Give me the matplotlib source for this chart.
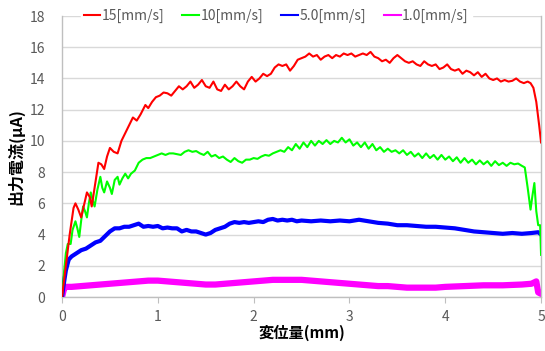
import matplotlib
matplotlib.use('Agg')
import matplotlib.pyplot as plt

plt.rcParams['font.family'] = ['Noto Sans CJK JP', 'DejaVu Sans']

# series: displacement [mm] vs output current [uA]
red_x = [0, 0.03, 0.08, 0.12, 0.14, 0.17, 0.2, 0.23, 0.26, 0.29, 0.31, 0.34, 0.38, 0.41, 0.44, 0.47,
         0.5, 0.54, 0.58, 0.62, 0.66, 0.7, 0.74, 0.78, 0.82, 0.87, 0.9, 0.94, 0.98, 1.02, 1.06, 1.1,
         1.14, 1.18, 1.22, 1.26, 1.3, 1.34, 1.38, 1.42, 1.46, 1.5, 1.54, 1.58, 1.62, 1.66, 1.7, 1.74,
         1.78, 1.82, 1.86, 1.9, 1.94, 1.98, 2.02, 2.06, 2.1, 2.14, 2.18, 2.22, 2.26, 2.3, 2.34, 2.38,
         2.42, 2.46, 2.5, 2.54, 2.58, 2.62, 2.66, 2.7, 2.74, 2.78, 2.82, 2.86, 2.9, 2.94, 2.98, 3.02,
         3.06, 3.1, 3.14, 3.18, 3.22, 3.26, 3.3, 3.34, 3.38, 3.42, 3.46, 3.5, 3.54, 3.58, 3.62, 3.66,
         3.7, 3.74, 3.78, 3.82, 3.86, 3.9, 3.94, 3.98, 4.02, 4.06, 4.1, 4.14, 4.18, 4.22, 4.26, 4.3,
         4.34, 4.38, 4.42, 4.46, 4.5, 4.54, 4.58, 4.62, 4.66, 4.7, 4.74, 4.78, 4.82, 4.86, 4.89, 4.92,
         4.95, 4.98, 5.0]
red_y = [0, 1.5, 4.0, 5.7, 6.0, 5.6, 5.1, 5.9, 6.7, 6.4, 5.8, 7.0, 8.6, 8.5, 8.2, 9.0,
         9.55, 9.3, 9.2, 10.0, 10.5, 11.0, 11.5, 11.3, 11.7, 12.3, 12.1, 12.5, 12.8, 12.9, 13.1, 13.05,
         12.9, 13.2, 13.5, 13.3, 13.5, 13.8, 13.4, 13.6, 13.9, 13.5, 13.4, 13.8, 13.3, 13.2, 13.6, 13.3,
         13.5, 13.8, 13.5, 13.3, 13.8, 14.1, 13.8, 14.0, 14.3, 14.15, 14.3, 14.7, 14.9, 14.8, 14.9, 14.5,
         14.8, 15.2, 15.3, 15.4, 15.6, 15.4, 15.5, 15.2, 15.4, 15.5, 15.3, 15.5, 15.4, 15.6, 15.5, 15.6,
         15.4, 15.5, 15.6, 15.5, 15.7, 15.4, 15.3, 15.1, 15.2, 15.0, 15.3, 15.5, 15.3, 15.1, 15.0, 15.1,
         14.9, 14.8, 15.1, 14.9, 14.8, 14.9, 14.6, 14.7, 14.9, 14.6, 14.5, 14.6, 14.3, 14.5, 14.4, 14.2,
         14.4, 14.1, 14.3, 14.0, 13.9, 14.0, 13.8, 13.9, 13.8, 13.85, 14.0, 13.8, 13.7, 13.8, 13.7, 13.4,
         12.5, 11.0, 9.9]

green_x = [0, 0.02, 0.04, 0.06, 0.09, 0.11, 0.14, 0.16, 0.18, 0.2, 0.22, 0.24, 0.26, 0.28, 0.3, 0.32,
           0.34, 0.37, 0.4, 0.42, 0.44, 0.47, 0.5, 0.52, 0.55, 0.58, 0.6, 0.63, 0.66, 0.69, 0.72, 0.76,
           0.8, 0.84, 0.88, 0.92, 0.96, 1.0, 1.04, 1.08, 1.12, 1.16, 1.2, 1.24, 1.28, 1.32, 1.36, 1.4,
           1.44, 1.48, 1.52, 1.56, 1.6, 1.64, 1.68, 1.72, 1.76, 1.8, 1.84, 1.88, 1.92, 1.96, 2.0, 2.04,
           2.08, 2.12, 2.16, 2.2, 2.24, 2.28, 2.32, 2.36, 2.4, 2.44, 2.48, 2.52, 2.56, 2.6, 2.64, 2.68,
           2.72, 2.76, 2.8, 2.84, 2.88, 2.92, 2.96, 3.0, 3.04, 3.08, 3.12, 3.16, 3.2, 3.24, 3.28, 3.32,
           3.36, 3.4, 3.44, 3.48, 3.52, 3.56, 3.6, 3.64, 3.68, 3.72, 3.76, 3.8, 3.84, 3.88, 3.92, 3.96,
           4.0, 4.04, 4.08, 4.12, 4.16, 4.2, 4.24, 4.28, 4.32, 4.36, 4.4, 4.44, 4.48, 4.52, 4.56, 4.6,
           4.64, 4.68, 4.72, 4.76, 4.8, 4.83, 4.86, 4.89, 4.91, 4.93, 4.95, 4.97, 4.99, 5.0]
green_y = [0, 1.5, 2.8, 3.4, 3.4, 4.3, 4.85, 4.4, 3.85, 4.9, 5.8, 5.5, 5.1, 6.0, 6.7, 6.2,
           5.8, 6.9, 7.7, 7.0, 6.7, 7.4, 7.0, 6.6, 7.5, 7.7, 7.2, 7.6, 7.9, 7.6, 7.9, 8.1,
           8.6, 8.8, 8.9, 8.9, 9.0, 9.1, 9.2, 9.1, 9.2, 9.2, 9.15, 9.1, 9.3, 9.4, 9.3, 9.35,
           9.2, 9.1, 9.3, 9.0, 9.1, 8.9, 9.0, 8.8, 8.65, 8.9, 8.7, 8.6, 8.8, 8.8, 8.9, 8.85,
           9.0, 9.1, 9.05, 9.2, 9.3, 9.4, 9.3, 9.6, 9.4, 9.8, 9.5, 9.9, 9.6, 10.0, 9.7, 10.0,
           9.8, 10.05, 9.8, 10.0, 9.9, 10.2, 9.9, 10.1, 9.7, 9.9, 9.6, 9.9, 9.5, 9.8, 9.4, 9.6,
           9.3, 9.5, 9.3, 9.4, 9.2, 9.4, 9.1, 9.3, 9.0, 9.2, 8.9, 9.2, 8.9, 9.1, 8.8, 9.1,
           8.8, 9.0, 8.7, 8.95, 8.6, 8.9, 8.6, 8.8, 8.5, 8.75, 8.5, 8.7, 8.4, 8.7, 8.45, 8.6,
           8.4, 8.6, 8.5, 8.55, 8.4, 8.3, 7.0, 5.6, 6.5, 7.3, 5.5, 4.6, 4.6, 2.7]

blue_x = [0, 0.02, 0.04, 0.07, 0.1, 0.15, 0.2, 0.25, 0.3, 0.35, 0.4, 0.45, 0.5, 0.55, 0.6, 0.65,
          0.7, 0.75, 0.8, 0.85, 0.9, 0.95, 1.0, 1.05, 1.1, 1.15, 1.2, 1.25, 1.3, 1.35, 1.4, 1.45,
          1.5, 1.55, 1.6, 1.65, 1.7, 1.75, 1.8, 1.85, 1.9, 1.95, 2.0, 2.05, 2.1, 2.15, 2.2, 2.25,
          2.3, 2.35, 2.4, 2.45, 2.5, 2.6, 2.7, 2.8, 2.9, 3.0, 3.1, 3.2, 3.3, 3.4, 3.5, 3.6,
          3.7, 3.8, 3.9, 4.0, 4.1, 4.2, 4.3, 4.4, 4.5, 4.6, 4.7, 4.8, 4.9, 4.97, 5.0]
blue_y = [0, 0.9, 1.7, 2.4, 2.6, 2.8, 3.0, 3.1, 3.3, 3.5, 3.6, 3.9, 4.2, 4.4, 4.4, 4.5,
          4.5, 4.6, 4.7, 4.5, 4.55, 4.5, 4.55, 4.4, 4.45, 4.4, 4.4, 4.2, 4.3, 4.2, 4.2, 4.1,
          4.0, 4.1, 4.3, 4.4, 4.5, 4.7, 4.8, 4.75, 4.8, 4.75, 4.8, 4.85, 4.8, 4.95, 5.0, 4.9,
          4.95, 4.9, 4.95, 4.85, 4.9, 4.85, 4.9, 4.85, 4.9, 4.85, 4.95, 4.85, 4.75, 4.7, 4.6, 4.6,
          4.55, 4.5, 4.5, 4.45, 4.4, 4.3, 4.2, 4.15, 4.1, 4.05, 4.1, 4.05, 4.1, 4.15, 4.0]

pink_x = [0, 0.02, 0.04, 0.1, 0.2, 0.3, 0.4, 0.5, 0.6, 0.7, 0.8, 0.9, 1.0, 1.1, 1.2, 1.3,
          1.4, 1.5, 1.6, 1.7, 1.8, 1.9, 2.0, 2.1, 2.2, 2.3, 2.4, 2.5, 2.6, 2.7, 2.8, 2.9,
          3.0, 3.1, 3.2, 3.3, 3.4, 3.5, 3.6, 3.7, 3.8, 3.9, 4.0, 4.2, 4.4, 4.6, 4.8, 4.9,
          4.95, 4.97, 5.0]
pink_y = [0, 0.5, 0.65, 0.65, 0.7, 0.75, 0.8, 0.85, 0.9, 0.95, 1.0, 1.05, 1.05, 1.0, 0.95, 0.9,
          0.85, 0.8, 0.8, 0.85, 0.9, 0.95, 1.0, 1.05, 1.1, 1.1, 1.1, 1.1, 1.05, 1.0, 0.95, 0.9,
          0.85, 0.8, 0.75, 0.7, 0.7, 0.65, 0.6, 0.6, 0.6, 0.6, 0.65, 0.7, 0.75, 0.75, 0.8, 0.85,
          1.0, 0.3, 0.2]

labels = ['15[mm/s]', '10[mm/s]', '5.0[mm/s]', '1.0[mm/s]']

fig = plt.figure(figsize=(5.45, 3.51), dpi=100)
ax = fig.add_axes([0.1138, 0.1538, 0.879, 0.8006])

ax.plot(red_x, red_y, color='#ff0000', lw=1.5, label=labels[0], zorder=5)
ax.plot(green_x, green_y, color='#00ff00', lw=1.5, label=labels[1], zorder=4)
ax.plot(blue_x, blue_y, color='#0000ff', lw=3.0, label=labels[2], zorder=3)
ax.plot(pink_x, pink_y, color='#ff00ff', lw=4.5, label=labels[3], zorder=2)

ax.set_xlim(0, 5)
ax.set_ylim(0, 18)
ax.set_xticks(range(0, 6))
ax.set_yticks(range(0, 19, 2))
ax.yaxis.grid(True, color='#d9d9d9', lw=1)
ax.set_axisbelow(True)

ax.spines['top'].set_visible(False)
for s in ['left', 'bottom', 'right']:
    ax.spines[s].set_color('#bfbfbf')
    ax.spines[s].set_linewidth(1)

ax.tick_params(axis='y', length=0, pad=12, labelsize=10, labelcolor='#595959')
ax.tick_params(axis='x', length=4, color='#bfbfbf', pad=5, labelsize=10, labelcolor='#595959')

ax.set_xlabel('変位量(mm)', fontsize=11, fontweight='bold', labelpad=1)
ax.set_ylabel('出力電流(μA)', fontsize=11.5, fontweight='bold', labelpad=4)

leg = ax.legend(loc='center', bbox_to_anchor=(0.447, 1.0), ncol=4, frameon=True,
                facecolor='white', edgecolor='white', framealpha=1, fancybox=False,
                handlelength=1.2, handletextpad=0.1, columnspacing=1.3,
                borderpad=0.2, fontsize=10)
for t in leg.get_texts():
    t.set_color('#595959')
for h in leg.get_lines():
    h.set_linewidth(1.5)

fig.savefig('out.png', dpi=100)
